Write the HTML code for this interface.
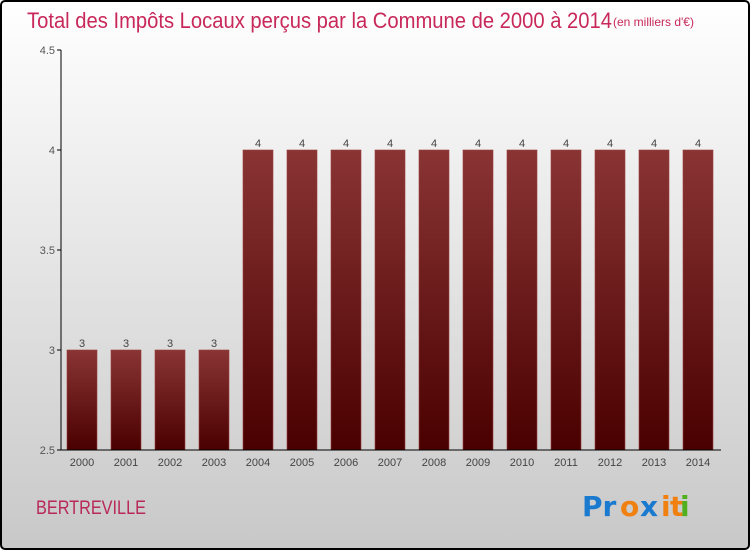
<!DOCTYPE html>
<html><head><meta charset="utf-8"><style>
body{margin:0;width:750px;height:550px;overflow:hidden;font-family:"Liberation Sans",sans-serif}
</style></head><body>
<svg id="chart" width="750" height="550" xmlns="http://www.w3.org/2000/svg">
<defs>
<linearGradient id="bg" x1="0" y1="0" x2="0" y2="1"><stop offset="0" stop-color="#ffffff"/><stop offset="1" stop-color="#c8c8c8"/></linearGradient>
<linearGradient id="bar" x1="0" y1="0" x2="0" y2="1"><stop offset="0" stop-color="#8a3434"/><stop offset="1" stop-color="#4a0000"/></linearGradient>
</defs>
<rect x="1" y="1" width="748" height="548" rx="4" fill="url(#bg)" stroke="#000" stroke-width="2"/>
<text x="27" y="28" font-size="22" fill="#c8285a" textLength="585" lengthAdjust="spacingAndGlyphs">Total des Impôts Locaux perçus par la Commune de 2000 à 2014</text>
<text x="613" y="26" font-size="12" fill="#c8285a">(en milliers d'€)</text>
<g id="plot"></g>
<text x="36" y="514" font-size="19" fill="#b8285a" textLength="110" lengthAdjust="spacingAndGlyphs">BERTREVILLE</text>
<g font-size="28" font-family="'DejaVu Sans',sans-serif" font-weight="bold">
<text x="582" y="516" fill="#1a7ad0">Pr</text><text x="620" y="516" fill="#f08010">o</text><text x="640" y="516" fill="#1a7ad0">x</text><text x="661" y="516" fill="#f08010">i</text><text x="670" y="516" fill="#f08010">t</text><text x="680" y="516" fill="#50b020">i</text>
</g>
</svg>
<script>
const categories=["2000","2001","2002","2003","2004","2005","2006","2007","2008","2009","2010","2011","2012","2013","2014"];
const values=[3,3,3,3,4,4,4,4,4,4,4,4,4,4,4];
const yTicks=[2.5,3,3.5,4,4.5];
const tickLabels=["2.5","3","3.5","4","4.5"];
const NS="http://www.w3.org/2000/svg";
const g=document.getElementById('plot');
const x0=60,x1=720,yTop=50,yBot=450,yMin=2.5,yMax=4.5;
const band=(x1-x0)/categories.length;
const y=v=>yBot-(v-yMin)/(yMax-yMin)*(yBot-yTop);
const xs=i=>x0+band*i;
function mk(t,a){const e=document.createElementNS(NS,t);for(const k in a)e.setAttribute(k,a[k]);g.appendChild(e);return e;}
yTicks.forEach((t,i)=>{
 const l=mk('line',{x1:57,x2:61,y1:y(t),y2:y(t),stroke:'#000'});
 
 
 const tx=mk('text',{x:55,y:y(t)+4,'font-size':11,fill:'#555','text-anchor':'end'});
 tx.textContent=tickLabels[i];
 
 
});
categories.forEach((c,i)=>{
 const bx=xs(i)+7,bw=band-14;
 const r=mk('rect',{x:bx,y:y(values[i]),width:bw,height:yBot-y(values[i]),fill:'url(#bar)',stroke:'#9a4040','stroke-width':0.6});
 
 
 const v=mk('text',{x:bx+bw/2,y:y(values[i])-3,'font-size':11,fill:'#444','text-anchor':'middle'});
 v.textContent=values[i];
 
 
 const tl=mk('text',{x:bx+bw/2,y:466,'font-size':11,fill:'#444','text-anchor':'middle'});
 tl.textContent=c;
 
 
});
const ya=mk('line',{x1:61,x2:61,y1:yTop,y2:yBot,stroke:'#000'});


const xa=mk('line',{x1:61,x2:721,y1:yBot,y2:yBot,stroke:'#000'});


</script>
</body></html>
